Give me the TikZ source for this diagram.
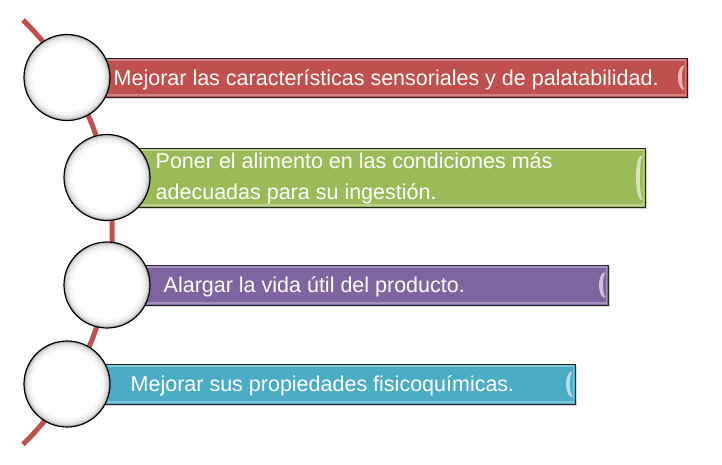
\documentclass[tikz,border=0pt]{standalone}
\usepackage{fontspec}
\setmainfont{Liberation Sans}
\usetikzlibrary{positioning,calc,shadows}
\definecolor{vrred}{HTML}{C0504D}
\definecolor{vrgreen}{HTML}{9BBB59}
\definecolor{vrpurple}{HTML}{8064A2}
\definecolor{vrteal}{HTML}{4BACC6}

\begin{document}
\begin{tikzpicture}[x=1pt, y=-1pt,
    disc/.style={circle, draw=black, line width=1.2pt, fill=white, minimum size=86pt, inner sep=0pt,
      path picture={\foreach \w/\g in {16/4,10/9,6/16,3/30}
        \draw[black!\g, line width=\w pt] (path picture bounding box.center) circle[radius=43];}},
    band/.style={draw=black!85, line width=1pt, fill=#1, inner sep=0pt, drop shadow={shadow xshift=1.5pt, shadow yshift=-1.5pt, opacity=0.35}},
    txt/.style={anchor=base west, inner sep=0pt, text=white, font=\fontsize{21.5}{31}\selectfont, align=left},
]
\useasboundingbox (0,0) rectangle (722,464);
% red guide arc behind the circles
\coordinate (top) at (23,20);
\draw[vrred, line width=5pt] (top) arc[start angle=-45.6, end angle=45.6, radius=297];

% bands
\node[band=vrred, minimum width=620pt, minimum height=39pt] (b1) at (377,77.5) {};
\node[band=vrgreen, minimum width=538pt, minimum height=59pt] (b2) at (376,177.5) {};
\node[band=vrpurple, minimum width=501pt, minimum height=40pt] (b3) at (357.5,285) {};
\node[band=vrteal, minimum width=508pt, minimum height=40pt] (b4) at (321,384) {};
\foreach \b in {b1,b2,b3,b4} {
  \draw[white, opacity=0.3, line width=1.5pt] ($(\b.north west)+(2,2.5)$) rectangle ($(\b.south east)+(-2,-2.5)$);
  \fill[white, opacity=0.6] ($(\b.north east)+(-5,8)$) .. controls +(-6,4) and +(-6,-4) .. ($(\b.south east)+(-5,-8)$)
     -- ++(2,0) .. controls +(-3.5,-4) and +(-3.5,4) .. ($(\b.north east)+(-3,8)$) -- cycle;
}

% circles
\node[disc] (c1) at (67,77.5) {};
\node[disc] (c2) at (107,177.5) {};
\node[disc] (c3) at (107,285) {};
\node[disc] (c4) at (67,384) {};

% texts
\node[txt] (t1) at (113.5,85) {Mejorar las características sensoriales y de palatabilidad.};
\node[txt] (t2) at (155.5,199) {Poner el alimento en las condiciones más\\adecuadas para su ingestión.};
\node[txt] (t3) at (163.5,292) {Alargar la vida útil del producto.};
\node[txt] (t4) at (130.5,391) {Mejorar sus propiedades fisicoquímicas.};
\end{tikzpicture}
\end{document}
